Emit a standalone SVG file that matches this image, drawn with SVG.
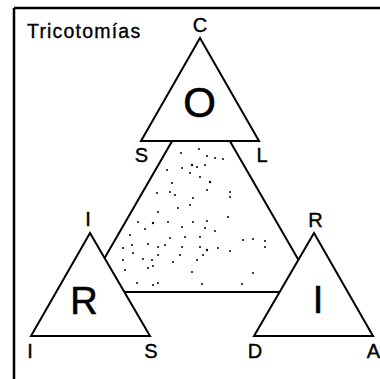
<svg xmlns="http://www.w3.org/2000/svg" width="380" height="379" viewBox="0 0 380 379">
<style>
.tri{fill:#fff;stroke:#000;stroke-width:2;stroke-linejoin:miter}
.big{fill:none;stroke:#000;stroke-width:2}
.lbl{font-family:"Liberation Sans",Arial,sans-serif;font-size:20px;fill:#000;stroke:#000;stroke-width:0.4;text-anchor:middle}
.ttl{font-family:"Liberation Sans",Arial,sans-serif;font-size:19.5px;fill:#000;stroke:#000;stroke-width:0.35;letter-spacing:1.2px}
.bigl{font-family:"Liberation Sans",Arial,sans-serif;fill:#000;stroke:#000;stroke-width:0.6;text-anchor:middle}
.dot{fill:#000}
</style>
<rect width="380" height="379" fill="#fff"/>
<g id="frame" fill="none" stroke="#000" stroke-width="2.5">
<path d="M14,8 H380 M14,8 V379"/>
</g>
<text id="title" class="ttl" x="27" y="38">Tricotomías</text>
<g id="connectors">
<polygon class="big" points="201,91 85,292 317,292"/>
<g id="stipple" class="dot">
<circle cx="181" cy="153" r="1"/><circle cx="199" cy="149" r="1"/><circle cx="207" cy="156" r="1"/><circle cx="215" cy="158" r="1"/><circle cx="223" cy="159" r="1"/>
<circle cx="167" cy="170" r="1"/><circle cx="182" cy="168" r="1"/><circle cx="192" cy="165" r="1.2"/><circle cx="197" cy="167" r="1"/><circle cx="205" cy="165" r="1"/>
<circle cx="190" cy="173" r="1"/><circle cx="200" cy="177" r="1"/><circle cx="210" cy="182" r="1.2"/><circle cx="172" cy="183" r="1"/><circle cx="157" cy="193" r="1"/>
<circle cx="170" cy="192" r="1"/><circle cx="175" cy="195" r="1"/><circle cx="207" cy="190" r="1"/><circle cx="230" cy="192" r="1"/><circle cx="230" cy="197" r="1"/>
<circle cx="193" cy="198" r="1"/><circle cx="190" cy="205" r="1"/><circle cx="158" cy="212" r="1"/><circle cx="178" cy="208" r="1"/><circle cx="138" cy="222" r="1"/>
<circle cx="153" cy="223" r="1.2"/><circle cx="168" cy="222" r="1"/><circle cx="182" cy="227" r="1"/><circle cx="193" cy="222" r="1"/><circle cx="207" cy="221" r="1"/>
<circle cx="228" cy="217" r="1"/><circle cx="145" cy="229" r="1"/><circle cx="205" cy="228" r="1"/><circle cx="215" cy="231" r="1"/><circle cx="130" cy="235" r="1"/>
<circle cx="170" cy="238" r="1"/><circle cx="185" cy="237" r="1"/><circle cx="200" cy="237" r="1"/><circle cx="243" cy="240" r="1"/><circle cx="253" cy="239" r="1"/>
<circle cx="265" cy="241" r="1"/><circle cx="123" cy="248" r="1"/><circle cx="132" cy="245" r="1"/><circle cx="148" cy="244" r="1"/><circle cx="158" cy="247" r="1"/>
<circle cx="165" cy="245" r="1"/><circle cx="182" cy="247" r="1"/><circle cx="200" cy="247" r="1"/><circle cx="207" cy="250" r="1.2"/><circle cx="218" cy="248" r="1"/>
<circle cx="230" cy="251" r="1"/><circle cx="265" cy="247" r="1"/><circle cx="133" cy="253" r="1"/><circle cx="158" cy="255" r="1"/><circle cx="180" cy="255" r="1"/>
<circle cx="203" cy="255" r="1"/><circle cx="123" cy="260" r="1"/><circle cx="143" cy="259" r="1"/><circle cx="152" cy="260" r="1"/><circle cx="173" cy="262" r="1"/>
<circle cx="197" cy="260" r="1"/><circle cx="125" cy="270" r="1"/><circle cx="148" cy="268" r="1"/><circle cx="153" cy="266" r="1"/><circle cx="192" cy="272" r="1"/>
<circle cx="253" cy="273" r="1"/><circle cx="137" cy="283" r="1"/><circle cx="153" cy="285" r="1"/><circle cx="158" cy="283" r="1"/><circle cx="202" cy="284" r="1"/><circle cx="242" cy="284" r="1"/>
</g>
</g>
<g id="node-O">
<polygon class="tri" points="200,38 141,141 259,141"/>
<text class="bigl" x="199.5" y="116.5" font-size="42">O</text>
<text class="lbl" x="200" y="32">C</text>
<text class="lbl" x="141.5" y="162">S</text>
<text class="lbl" x="262" y="162">L</text>
</g>
<g id="node-R">
<polygon class="tri" points="90,233 31,336 150,336"/>
<text class="bigl" x="84" y="314" font-size="38">R</text>
<text class="lbl" x="88" y="226">I</text>
<text class="lbl" x="30" y="358">I</text>
<text class="lbl" x="151" y="358">S</text>
</g>
<g id="node-I">
<polygon class="tri" points="314,233 254,336 373,336"/>
<text class="bigl" x="318" y="313" font-size="38">I</text>
<text class="lbl" x="315.5" y="227">R</text>
<text class="lbl" x="255" y="358">D</text>
<text class="lbl" x="373.5" y="358">A</text>
</g>
</svg>
